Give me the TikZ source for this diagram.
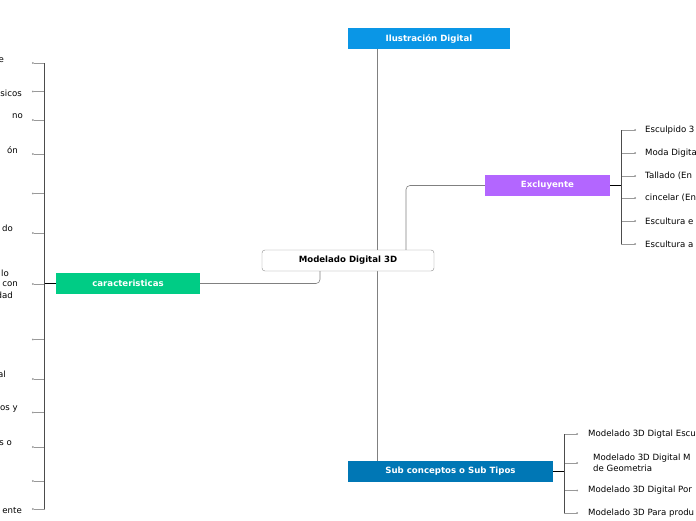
\documentclass[tikz,border=0pt]{standalone}
\usepackage{fontspec}
\setmainfont{DejaVu Sans}
\usetikzlibrary{calc,arrows.meta,positioning}
\definecolor{ilublue}{HTML}{0A96E6}
\definecolor{exclpurple}{HTML}{B366FF}
\definecolor{caracgreen}{HTML}{00CC85}
\definecolor{subblue}{HTML}{0077B5}

\tikzset{
  topic/.style={text=white, font=\bfseries\fontsize{8.6}{10}\selectfont, minimum height=21pt, inner sep=0pt},
  leaf/.style={font=\fontsize{8.6}{11.5}\selectfont, anchor=west, inner sep=0pt, align=left, yshift=-1pt},
  cut/.style={font=\fontsize{8.6}{11}\selectfont, anchor=east, inner sep=0pt, align=right, yshift=-1pt},
  link/.style={draw=black!50, line width=0.6pt},
  tick/.style={draw=black!40, line width=0.6pt, -{Circle[length=1.8pt]}},
  spine/.style={draw=black!70, line width=0.7pt},
  junc/.style={draw=black, line width=1pt}
}

\begin{document}
\begin{tikzpicture}[x=1pt,y=-1pt]
    \useasboundingbox (0,0) rectangle (696,520);

    \node[topic, fill=ilublue, minimum width=162pt] (ilus) at (429,38.5) {Ilustración Digital};
    \node[topic, fill=exclpurple, minimum width=125pt] (excl) at (547.5,185.5) {Excluyente};
    \node[topic, fill=caracgreen, minimum width=144pt] (carac) at (128,283.5) {caracteristicas};
    \node[topic, fill=subblue, minimum width=205pt] (sub) at (450.5,471.5) {Sub conceptos o Sub Tipos};

    % main axis behind the centre box
    \draw[link] ([xshift=-52pt]ilus.south) -- ([xshift=-73.5pt]sub.north);
    \node[draw=black!45, fill=white, rounded corners=3pt, minimum width=172pt, minimum height=21pt,
          inner sep=0pt, font=\bfseries\fontsize{8.6}{10}\selectfont] (central) at (348,260.5) {Modelado Digital 3D};

    \draw[link, rounded corners=4pt] ([xshift=58pt]central.north) |- (excl.west);
    \draw[link, rounded corners=4pt] ([xshift=-28pt]central.south) |- (carac.east);

    % Excluyente
    \coordinate (exbr) at ([xshift=11pt]excl.east);
    \foreach \y/\txt [count=\i] in {129/Esculpido 3, 152/Moda Digita, 175/Tallado (En,
        197/cincelar (En, 220/Escultura e, 243/Escultura a} {
        \node[leaf] (ex\i) at (645,\y) {\txt};
        \draw[tick] (exbr |- ex\i.west) -- ([xshift=-9pt]ex\i.west);
    }
    \draw[spine] (exbr |- ex1.west) -- (exbr |- ex6.west);
    \draw[junc] (excl.east) -- (exbr);

    % Sub conceptos
    \coordinate (sbbr) at ([xshift=11pt]sub.east);
    \node[leaf] (sb1) at (588,433) {Modelado 3D Digtal Escu};
    \node[leaf] (sb2) at (593,462) {Modelado 3D Digital M\\de Geometria};
    \node[leaf] (sb3) at (588,489.5) {Modelado 3D Digital Por};
    \node[leaf] (sb4) at (588,512) {Modelado 3D Para produ};
    \foreach \i in {1,...,4} {
        \draw[tick] (sbbr |- sb\i.west) -- (578,0 |- sb\i.west);
    }
    \draw[spine] (sbbr |- sb1.west) -- (sbbr |- sb4.west);
    \draw[junc] (sub.east) -- (sbbr);

    % caracteristicas
    \coordinate (cabr) at ([xshift=-11pt]carac.west);
    \foreach \y [count=\i] in {63,91.5,120,154,193.5,233,284,339.5,379,412.5,447,481,509} {
        \coordinate (ct\i) at (32,\y);
        \draw[tick] (cabr |- ct\i) -- (ct\i);
    }
    \draw[spine] (cabr |- ct1) -- (cabr |- ct13);
    \draw[junc] (carac.west) -- (cabr);

    \foreach \x/\y/\txt [count=\i] in {4/59/e, 22/92/sicos, 23/115/no, 18/149/ón, 13/227/do,
        9/272/lo, 18/283/con, 13/294/dad, 6/373/al, 18/408/os y, 12/442/s o, 22/510/ente} {
        \node[cut] (cl\i) at (\x,\y) {\txt};
    }
\end{tikzpicture}
\end{document}
